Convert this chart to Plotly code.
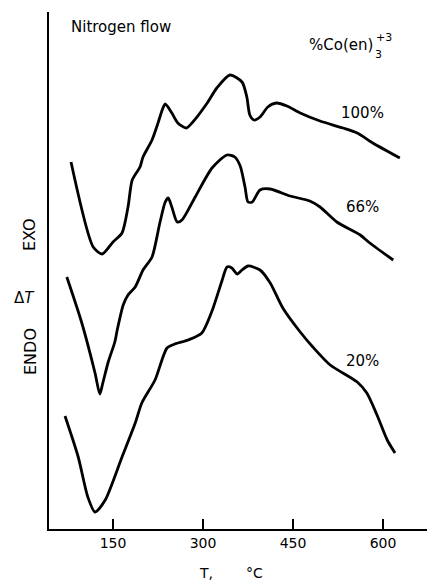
import plotly.graph_objects as go

# Temperature (°C) and ΔT (arbitrary units)
t_100 = [80, 117, 132, 150, 165, 175, 182, 195, 200, 215, 225, 232, 237, 248, 258, 272, 283,
         307, 323, 345, 365, 373, 378, 385, 395, 408, 422, 440, 462, 495, 533, 557, 583, 628]
dt_100 = [367, 282, 275, 287, 296, 322, 349, 362, 372, 389, 406, 419, 425, 416, 406, 401, 407,
          426, 441, 454, 447, 432, 414, 409, 412, 422, 426, 423, 416, 408, 401, 396, 386, 371]

t_66 = [73, 98, 120, 128, 133, 142, 153, 157, 167, 175, 187, 200, 215, 228, 237, 242, 248, 257,
        265, 287, 315, 340, 353, 362, 370, 375, 382, 395, 412, 445, 478, 495, 523, 562, 578, 617]
dt_66 = [252, 206, 156, 135, 146, 167, 187, 199, 224, 234, 242, 259, 272, 306, 327, 331, 322, 307,
         309, 332, 361, 374, 372, 363, 342, 327, 327, 339, 340, 333, 328, 322, 307, 294, 286, 269]

t_20 = [70, 92, 108, 120, 137, 165, 187, 198, 220, 240, 253, 275, 298, 315, 332, 340, 348, 357,
        365, 375, 395, 412, 433, 462, 483, 512, 557, 573, 590, 607, 620]
dt_20 = [113, 72, 32, 17, 29, 72, 106, 126, 149, 181, 185, 189, 196, 218, 249, 262, 261, 255,
         259, 263, 259, 246, 221, 197, 182, 164, 147, 136, 114, 89, 76]

series = [("100%", t_100, dt_100, 416), ("66%", t_66, dt_66, 322), ("20%", t_20, dt_20, 168)]
tick_vals = [150, 300, 450, 600]

FONT = "DejaVu Sans"


def ann(fig, text, x, y, size, xref="x", yref="y", angle=0):
    fig.add_annotation(x=x, y=y, xref=xref, yref=yref, text=text, showarrow=False,
                       xanchor="center", yanchor="middle", textangle=angle,
                       font=dict(family=FONT, size=size, color="black"))


fig = go.Figure()
for name, t, dt, ly in series:
    fig.add_trace(go.Scatter(x=t, y=dt, mode="lines", name=name,
                             line=dict(color="black", width=2.8, shape="spline", smoothing=0.7),
                             showlegend=False, hoverinfo="skip"))
    ann(fig, name, 566, ly, 15)

ann(fig, "Nitrogen flow", 163, 502, 15)
ann(fig, "%Co(en)", 530, 484, 15)
ann(fig, "+3", 602, 492, 11)
ann(fig, "3", 592, 475, 11)

# left-side labels
ann(fig, "EXO", (30 - 49) / 378, (529 - 235) / 517, 16, "paper", "paper", -90)
ann(fig, "Δ<i>T</i>", (24 - 49) / 378, (529 - 298) / 517, 15, "paper", "paper")
ann(fig, "ENDO", (30 - 49) / 378, (529 - 352) / 517, 16, "paper", "paper", -90)

# x axis title pieces
ann(fig, "T,", 150 + (206 - 113) / 0.6, (529 - 573) / 517, 14, "x", "paper")
ann(fig, "°C", 150 + (254 - 113) / 0.6, (529 - 573) / 517, 14, "x", "paper")

fig.update_layout(
    width=427, height=582,
    margin=dict(l=49, r=0, t=12, b=53),
    paper_bgcolor="white", plot_bgcolor="white",
    xaxis=dict(range=[43.3, 673.3], tickvals=tick_vals, ticks="inside", ticklen=10,
               tickwidth=1.5, tickcolor="black", showline=True, linecolor="black",
               linewidth=1.5, showgrid=False, zeroline=False,
               tickfont=dict(family=FONT, size=14, color="black")),
    yaxis=dict(range=[0, 517], showticklabels=False, ticks="", showline=True,
               linecolor="black", linewidth=1.5, showgrid=False, zeroline=False),
)

fig.write_html("out.html")
